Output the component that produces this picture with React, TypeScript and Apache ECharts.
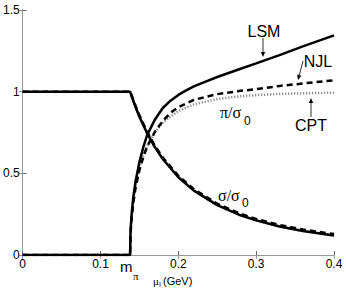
import React, { useEffect, useRef } from "react";
import * as echarts from "echarts";

// x-axis tick labels (μ_I in GeV) and y-axis ticks
const xTicks = [0, 0.1, 0.2, 0.3, 0.4];
const yTicks = [0, 0.5, 1, 1.5];

// π/σ0 curves
const lsmMu = [0, 0.138, 0.1385, 0.139, 0.14, 0.142, 0.145, 0.15, 0.155, 0.16, 0.17, 0.18, 0.19, 0.2, 0.21, 0.22, 0.235, 0.25, 0.28, 0.3, 0.33, 0.36, 0.4];
const piLSM = [0, 0, 0.13, 0.18, 0.25, 0.35, 0.45, 0.57, 0.66, 0.735, 0.83, 0.9, 0.945, 0.98, 1.008, 1.032, 1.062, 1.09, 1.14, 1.173, 1.224, 1.277, 1.345];
const piMu = [0, 0.138, 0.1385, 0.139, 0.14, 0.142, 0.145, 0.15, 0.155, 0.16, 0.17, 0.18, 0.19, 0.2, 0.22, 0.25, 0.28, 0.3, 0.33, 0.36, 0.4];
const piNJL = [0, 0, 0.11, 0.16, 0.225, 0.315, 0.41, 0.52, 0.6, 0.665, 0.755, 0.82, 0.87, 0.905, 0.95, 0.985, 1.005, 1.015, 1.035, 1.05, 1.07];
const piCPT = [0, 0, 0.12, 0.17, 0.237, 0.33, 0.424, 0.533, 0.61, 0.668, 0.752, 0.809, 0.848, 0.882, 0.922, 0.955, 0.972, 0.979, 0.986, 0.99, 0.994];

// σ/σ0 curves
const sigMu = [0, 0.138, 0.14, 0.145, 0.15, 0.16, 0.17, 0.18, 0.2, 0.22, 0.25, 0.28, 0.3, 0.33, 0.36, 0.4];
const sigLSM = [1, 1, 0.972, 0.906, 0.846, 0.744, 0.659, 0.588, 0.476, 0.394, 0.305, 0.243, 0.212, 0.175, 0.147, 0.119];
const sigNJL = [1, 1, 0.978, 0.914, 0.855, 0.753, 0.668, 0.597, 0.485, 0.403, 0.314, 0.252, 0.221, 0.184, 0.156, 0.128];
const sigCPT = [1, 1, 0.972, 0.906, 0.846, 0.744, 0.659, 0.588, 0.476, 0.394, 0.305, 0.243, 0.212, 0.175, 0.147, 0.119];

const zip = (xs: number[], ys: number[]) => xs.map((x, i) => [x, ys[i]]);

const SANS = "Liberation Sans, Arial, Helvetica, sans-serif";
const SERIF = "Liberation Serif, Times New Roman, serif";

function arrow(x1: number, y1: number, x2: number, y2: number) {
  const dx = x2 - x1;
  const dy = y2 - y1;
  const len = Math.sqrt(dx * dx + dy * dy);
  const ux = dx / len;
  const uy = dy / len;
  const hl = 5;
  const hw = 2.2;
  const bx = x2 - ux * hl;
  const by = y2 - uy * hl;
  return [
    { type: "line", shape: { x1, y1, x2: bx, y2: by }, style: { stroke: "#000", lineWidth: 0.8 } },
    {
      type: "polygon",
      shape: { points: [[x2, y2], [bx - uy * hw, by + ux * hw], [bx + uy * hw, by - ux * hw]] },
      style: { fill: "#000" },
    },
  ];
}

function txt(text: string, x: number, y: number, size: number, font: string, align = "left") {
  return {
    type: "text",
    x,
    y,
    style: { text, fontSize: size, fontFamily: font, fill: "#000", align, verticalAlign: "middle" },
  };
}

export default function App() {
  const ref = useRef<HTMLDivElement>(null);
  useEffect(() => {
    document.body.style.margin = "0";
    const chart = echarts.init(ref.current!, null, { renderer: "svg" });
    const lineS = (data: number[][], type: any, color: string, width: number) => ({
      type: "line",
      data,
      showSymbol: false,
      symbol: "none",
      lineStyle: { color, width, type },
      xAxisIndex: 0,
      yAxisIndex: 0,
    });
    const dash = [6, 4];
    const dot = [1.2, 1.8];
    chart.setOption({
      animation: false,
      backgroundColor: "#fff",
      grid: { left: 21, right: 12, top: 10, bottom: 35 },
      xAxis: [
        {
          type: "value",
          min: xTicks[0],
          max: xTicks[xTicks.length - 1],
          interval: 0.1,
          axisLine: { show: true, lineStyle: { color: "#000", width: 1 } },
          axisTick: { show: true, inside: true, length: 4, lineStyle: { color: "#666" } },
          axisLabel: { fontSize: 12, color: "#000", fontFamily: SANS, margin: 3 },
          splitLine: { show: false },
        },
        {
          type: "value",
          position: "top",
          min: xTicks[0],
          max: xTicks[xTicks.length - 1],
          interval: 0.1,
          axisLine: { show: true, lineStyle: { color: "#999", width: 1 } },
          axisTick: { show: true, inside: true, length: 4, lineStyle: { color: "#999" } },
          axisLabel: { show: false },
          splitLine: { show: false },
        },
      ],
      yAxis: [
        {
          type: "value",
          min: yTicks[0],
          max: yTicks[yTicks.length - 1],
          interval: 0.5,
          axisLine: { show: true, lineStyle: { color: "#000", width: 1 } },
          axisTick: { show: true, inside: true, length: 4, lineStyle: { color: "#666" } },
          axisLabel: { fontSize: 12, color: "#000", fontFamily: SANS, margin: 3 },
          splitLine: { show: false },
        },
        {
          type: "value",
          position: "right",
          min: yTicks[0],
          max: yTicks[yTicks.length - 1],
          interval: 0.5,
          axisLine: { show: true, lineStyle: { color: "#999", width: 1 } },
          axisTick: { show: true, inside: true, length: 4, lineStyle: { color: "#999" } },
          axisLabel: { show: false },
          splitLine: { show: false },
        },
      ],
      series: [
        lineS(zip(piMu, piCPT), dot, "#888", 2.5),
        lineS(zip(sigMu, sigCPT), dot, "#888", 2.5),
        lineS(zip(lsmMu, piLSM), "solid", "#000", 2.5),
        lineS(zip(sigMu, sigLSM), "solid", "#000", 2.5),
        lineS(zip(piMu, piNJL), dash, "#000", 2.5),
        lineS(zip(sigMu, sigNJL), dash, "#000", 2.5),
      ],
      graphic: [
        txt("LSM", 264, 31, 16, SANS, "center"),
        ...arrow(263, 38, 263, 57),
        txt("NJL", 318, 61, 16, SANS, "center"),
        ...arrow(303, 61, 298, 80),
        txt("CPT", 311, 125, 16, SANS, "center"),
        ...arrow(311, 117, 311, 98),
        txt("π/σ", 220, 112, 16, SERIF),
        txt("0", 244, 121, 12, SANS),
        txt("σ/σ", 218, 195, 16, SERIF),
        txt("0", 242, 203, 12, SANS),
        txt("m", 120, 266, 15, SANS),
        txt("π", 133, 276, 11, SERIF),
        txt("μ", 153, 281, 11, SERIF),
        txt("I", 159, 284, 7, SANS),
        txt("(GeV)", 163, 281, 11, SANS),
      ],
    });
    return () => chart.dispose();
  }, []);
  return <div ref={ref} style={{ width: 346, height: 290 }} />;
}
